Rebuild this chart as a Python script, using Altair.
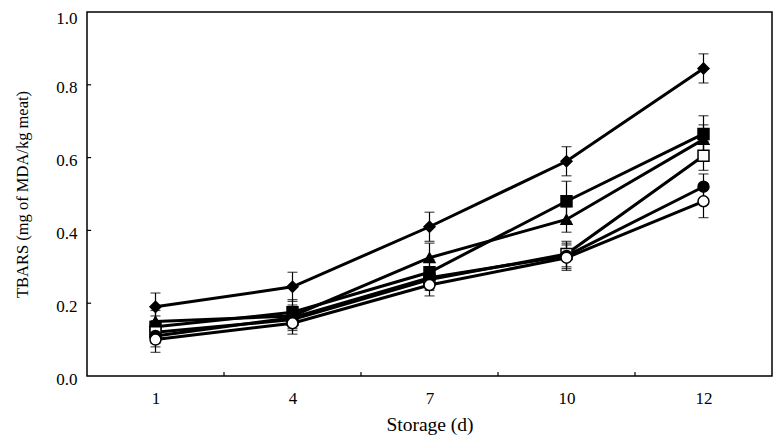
import altair as alt
import pandas as pd

days = ["1", "4", "7", "10", "12"]
series = ["diamond", "square_filled", "triangle", "square_open", "circle_filled", "circle_open"]
shapes = ["diamond", "square", "triangle-up", "square", "circle", "circle"]
fills = ["black", "black", "black", "white", "black", "white"]

diamond = [0.19, 0.245, 0.41, 0.59, 0.845]
square_filled = [0.135, 0.175, 0.285, 0.48, 0.665]
triangle = [0.15, 0.165, 0.325, 0.43, 0.65]
square_open = [0.12, 0.155, 0.265, 0.335, 0.605]
circle_filled = [0.11, 0.16, 0.27, 0.33, 0.52]
circle_open = [0.10, 0.145, 0.25, 0.325, 0.48]

err_diamond = [0.038, 0.04, 0.04, 0.04, 0.04]
err_square_filled = [0.03, 0.035, 0.035, 0.055, 0.05]
err_triangle = [0.03, 0.03, 0.04, 0.035, 0.04]
err_square_open = [0.03, 0.03, 0.03, 0.035, 0.04]
err_circle_filled = [0.03, 0.03, 0.03, 0.035, 0.035]
err_circle_open = [0.035, 0.03, 0.03, 0.035, 0.045]

vals = [diamond, square_filled, triangle, square_open, circle_filled, circle_open]
errs = [err_diamond, err_square_filled, err_triangle, err_square_open, err_circle_filled, err_circle_open]

rows = []
for s, v, e in zip(series, vals, errs):
    for i, (yv, ev) in enumerate(zip(v, e)):
        rows.append({"series": s, "idx": i, "day": days[i], "val": yv, "lo": yv - ev, "hi": yv + ev})
df = pd.DataFrame(rows)

x_ticks = [0.5, 1.5, 2.5, 3.5]
y_ticks = [0.2, 0.4, 0.6, 0.8]

FONT = "Liberation Serif"
label_expr = "['1','4','7','10','12'][datum.value]"

xscale = alt.Scale(domain=[-0.5, 4.5], nice=False, zero=False)
yscale = alt.Scale(domain=[0, 1], nice=False)

xaxis = alt.Axis(values=[0, 1, 2, 3, 4], labelExpr=label_expr, title="Storage (d)", tickSize=0,
                 labelPadding=14, titlePadding=9, grid=False, domain=False, titleFontSize=19.5)
yaxis = alt.Axis(values=[0, 0.2, 0.4, 0.6, 0.8, 1.0], format=".1f", title="TBARS (mg of MDA/kg meat)",
                 tickSize=0, labelPadding=10,
                 labelOffset={"condition": {"test": "datum.value >= 1", "value": 6}, "value": 3},
                 titlePadding=25, grid=False, domain=False, titleFontSize=16.5)

base = alt.Chart(df)

lines = base.mark_line(color="black", strokeWidth=3).encode(
    x=alt.X("idx:Q", scale=xscale, axis=xaxis),
    y=alt.Y("val:Q", scale=yscale, axis=yaxis),
    detail="series:N",
    order="idx:Q",
)

bars = base.mark_rule(color="black", strokeWidth=1.2).encode(
    x="idx:Q", y="lo:Q", y2="hi:Q"
)
cap_lo = base.mark_tick(color="black", thickness=1.2, size=10, orient="horizontal").encode(
    x="idx:Q", y="lo:Q"
)
cap_hi = base.mark_tick(color="black", thickness=1.2, size=10, orient="horizontal").encode(
    x="idx:Q", y="hi:Q"
)

points = base.mark_point(filled=True, stroke="black", strokeWidth=1.5, size=120, opacity=1).encode(
    x="idx:Q",
    y="val:Q",
    shape=alt.Shape("series:N", scale=alt.Scale(domain=series, range=shapes), legend=None),
    fill=alt.Fill("series:N", scale=alt.Scale(domain=series, range=fills), legend=None),
)

xt = alt.Chart(pd.DataFrame({"t": x_ticks})).mark_rule(color="black", strokeWidth=1.2).encode(
    x="t:Q", y=alt.datum(0), y2=alt.datum(0.011)
)
yt = alt.Chart(pd.DataFrame({"t": y_ticks})).mark_rule(color="black", strokeWidth=1.2).encode(
    y="t:Q", x=alt.datum(-0.5), x2=alt.datum(-0.47)
)

chart = alt.layer(lines, bars, cap_lo, cap_hi, points, xt, yt).properties(
    width=685, height=364,
    autosize=alt.AutoSizeParams(type="none"),
    padding={"left": 79, "top": 4, "right": 3, "bottom": 60},
).configure_view(
    stroke="black", strokeWidth=1.5
).configure_axis(
    labelFont=FONT, titleFont=FONT, labelFontSize=17,
    labelColor="black", titleColor="black", titleFontWeight="normal",
)

chart.save("out.html", embed_options={"renderer": "svg", "actions": False})
